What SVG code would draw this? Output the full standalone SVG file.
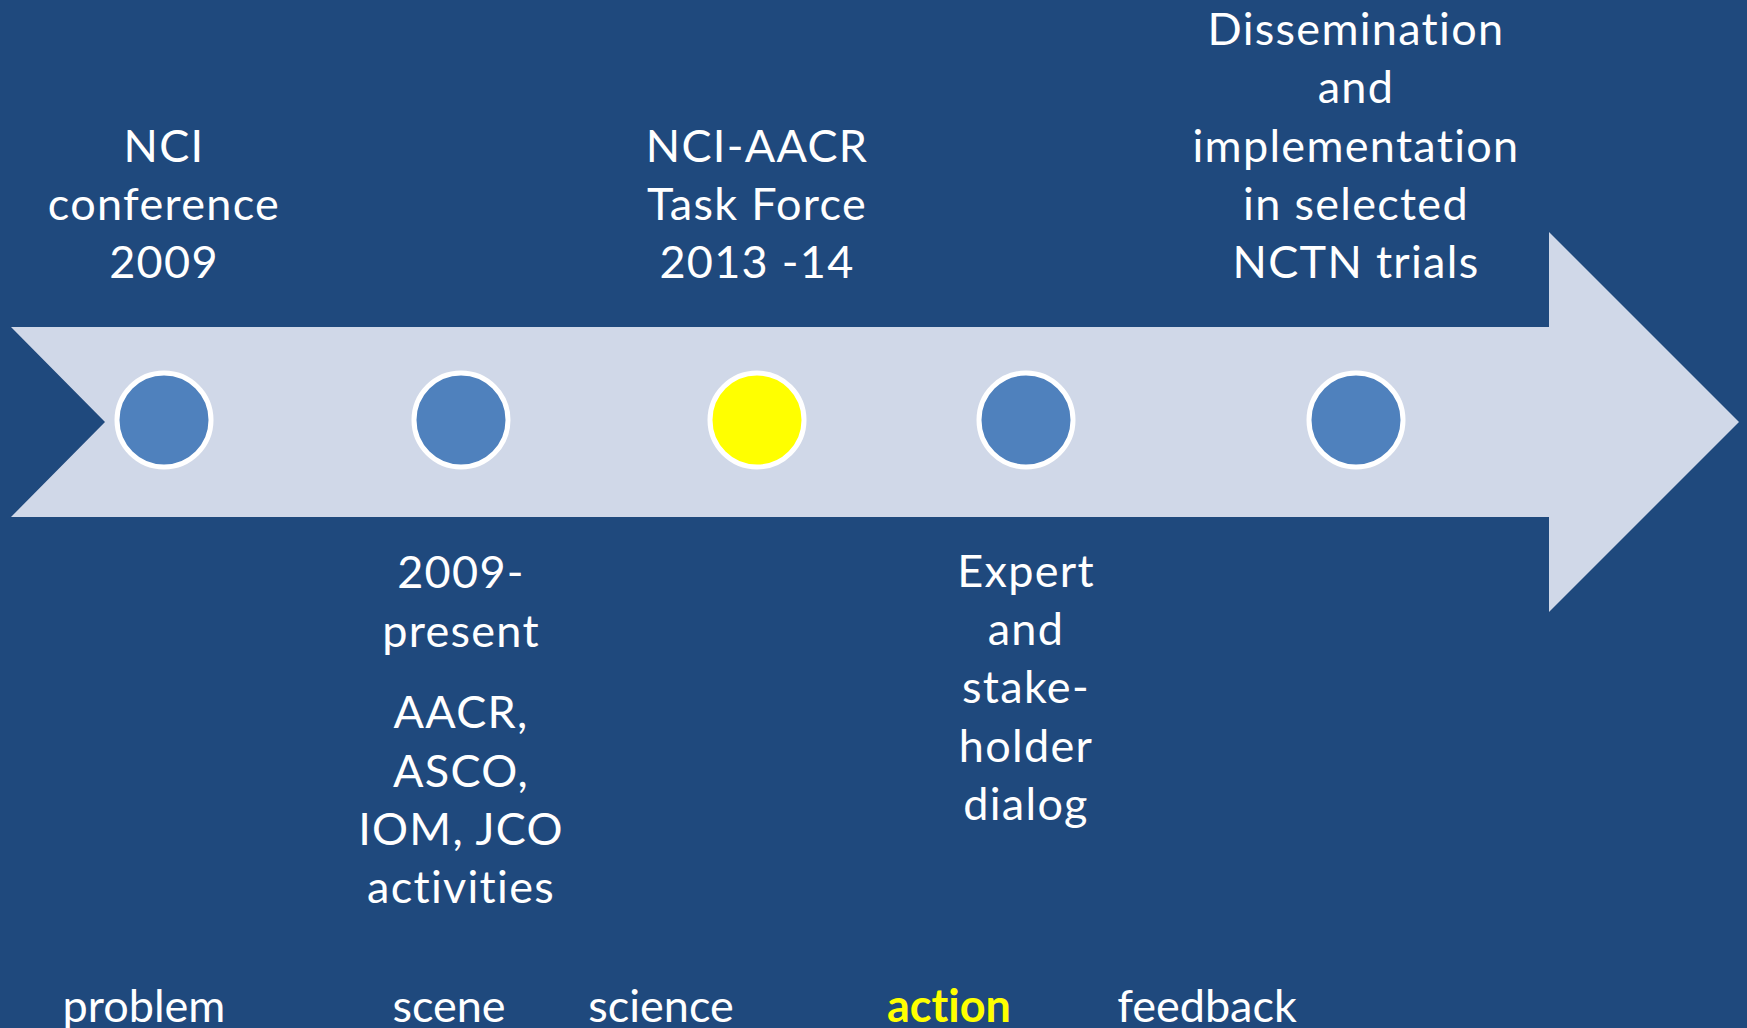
<svg xmlns="http://www.w3.org/2000/svg" width="1747" height="1028" viewBox="0 0 1747 1028">
  <style>
    .lbl { font-family: Lato, "Open Sans", "Liberation Sans", sans-serif; font-size: 45px; letter-spacing: 1.3px; font-variant-ligatures: none; fill: #ffffff; text-anchor: middle; }
    .phase { letter-spacing: 0; }
    .hl { fill: #ffff00; font-weight: bold; }
    .dot { stroke: #ffffff; stroke-width: 5; }
    .blue { fill: #4f81bd; }
    .yellow { fill: #ffff00; }
  </style>

  <!-- background -->
  <rect x="0" y="0" width="1747" height="1028" fill="#1f497d"/>

  <!-- timeline arrow -->
  <g id="connectors">
    <polygon points="11,327 1549,327 1549,232 1739,422 1549,612 1549,517 11,517 105,422" fill="#d0d8e8"/>
  </g>

  <!-- milestone 1 -->
  <g id="node-nci-conference">
    <circle class="dot blue" cx="164" cy="420" r="47"/>
    <text class="lbl" x="164" y="162">NCI</text>
    <text class="lbl" x="164" y="220">conference</text>
    <text class="lbl" x="164" y="278">2009</text>
  </g>

  <!-- milestone 2 -->
  <g id="node-2009-present">
    <circle class="dot blue" cx="461" cy="420" r="47"/>
    <text class="lbl" x="461" y="588">2009-</text>
    <text class="lbl" x="461" y="647">present</text>
    <text class="lbl" x="461" y="728">AACR,</text>
    <text class="lbl" x="461" y="787">ASCO,</text>
    <text class="lbl" x="461" y="845">IOM, JCO</text>
    <text class="lbl" x="461" y="903">activities</text>
  </g>

  <!-- milestone 3 (current) -->
  <g id="node-task-force">
    <circle class="dot yellow" cx="757" cy="420" r="47"/>
    <text class="lbl" x="757" y="162">NCI-AACR</text>
    <text class="lbl" x="757" y="220">Task Force</text>
    <text class="lbl" x="757" y="278">2013 -14</text>
  </g>

  <!-- milestone 4 -->
  <g id="node-dialog">
    <circle class="dot blue" cx="1026" cy="420" r="47"/>
    <text class="lbl" x="1026" y="587">Expert</text>
    <text class="lbl" x="1026" y="645">and</text>
    <text class="lbl" x="1026" y="703">stake-</text>
    <text class="lbl" x="1026" y="762">holder</text>
    <text class="lbl" x="1026" y="820">dialog</text>
  </g>

  <!-- milestone 5 -->
  <g id="node-dissemination">
    <circle class="dot blue" cx="1356" cy="420" r="47"/>
    <text class="lbl" x="1356" y="45">Dissemination</text>
    <text class="lbl" x="1356" y="103">and</text>
    <text class="lbl" x="1356" y="162">implementation</text>
    <text class="lbl" x="1356" y="220">in selected</text>
    <text class="lbl" x="1356" y="278">NCTN trials</text>
  </g>

  <!-- phase labels along the bottom edge -->
  <g id="phases">
    <text class="lbl phase" x="144" y="1022">problem</text>
    <text class="lbl phase" x="449" y="1022">scene</text>
    <text class="lbl phase" x="661" y="1022">science</text>
    <text class="lbl phase hl" x="949" y="1022">action</text>
    <text class="lbl phase" x="1207" y="1022">feedback</text>
  </g>
</svg>
